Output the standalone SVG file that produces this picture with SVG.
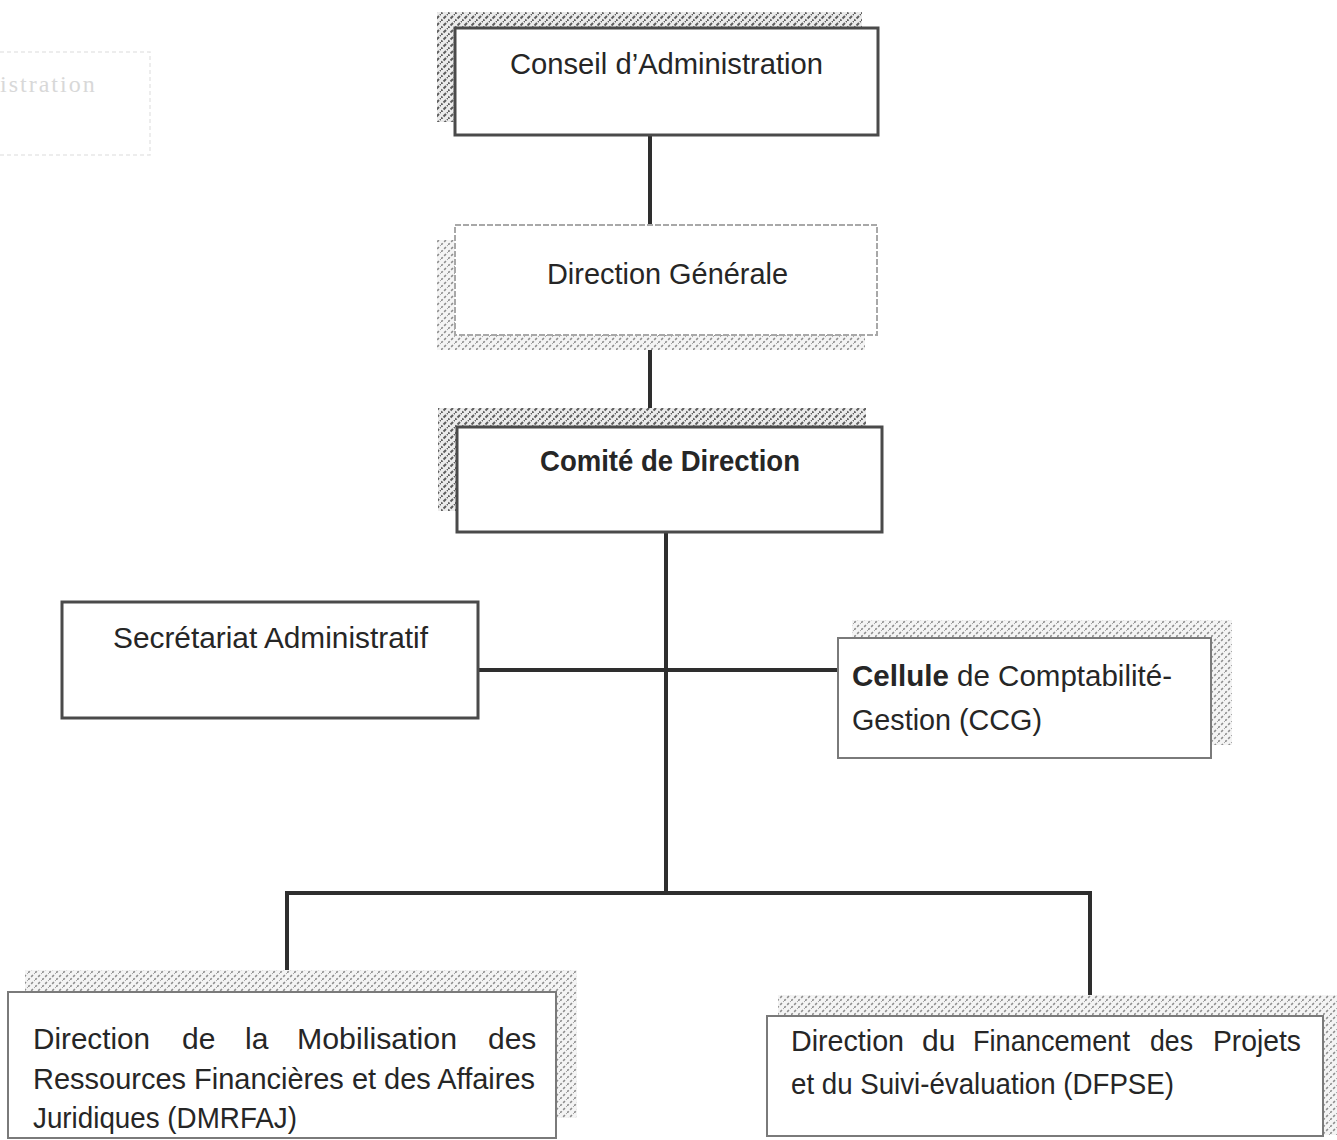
<svg xmlns="http://www.w3.org/2000/svg" width="1337" height="1140" viewBox="0 0 1337 1140">
  <defs>
    <pattern id="hatch" patternUnits="userSpaceOnUse" width="7" height="7">
      <rect width="7" height="7" fill="#ececec"/>
      <path d="M-1,8 L8,-1" stroke="#5e5e5e" stroke-width="2" stroke-dasharray="3.5 1.5"/>
    </pattern>
    <pattern id="dots" patternUnits="userSpaceOnUse" width="7" height="7">
      <rect width="7" height="7" fill="#f4f4f4"/>
      <path d="M0,7 L7,0" stroke="#8e8e8e" stroke-width="1.6" stroke-dasharray="2.5 2"/>
    </pattern>
  </defs>
  <style>
    .box { fill: #ffffff; stroke: #4a4a4a; stroke-width: 3; }
    .lightbox { fill: #ffffff; stroke: #a8a8a8; stroke-width: 2; stroke-dasharray: 6 2; }
    .midbox { fill: #ffffff; stroke: #7a7a7a; stroke-width: 2; }
    .shadow { fill: url(#hatch); }
    .shadow2 { fill: url(#dots); }
    .lbl { font-family: "Liberation Sans", Arial, sans-serif; font-size: 30px; fill: #262626; }
    .b { font-weight: bold; }
    .conn { stroke: #2e2e2e; stroke-width: 4; fill: none; stroke-linecap: square; }
    .ghost { font-family: "Liberation Serif", serif; font-size: 24px; fill: #cfcfcf; }
  </style>

  <rect width="1337" height="1140" fill="#ffffff"/>

  <!-- faint bleed-through from reverse page -->
  <g id="bleed" opacity="0.8">
    <path d="M0,52 H150 V155 H0" fill="none" stroke="#e2e2e2" stroke-width="1.5" stroke-dasharray="4 3"/>
    <text class="ghost" x="0" y="92" letter-spacing="2">istration</text>
  </g>

  <g id="connectors">
    <line class="conn" x1="650" y1="136" x2="650" y2="225"/>
    <line class="conn" x1="650" y1="336" x2="650" y2="427"/>
    <line class="conn" x1="666" y1="533" x2="666" y2="893"/>
    <line class="conn" x1="479" y1="670" x2="837" y2="670"/>
    <polyline class="conn" points="287,972 287,893 1090,893 1090,995"/>
  </g>

  <g id="node-conseil">
    <rect class="shadow" x="437" y="12" width="425" height="110"/>
    <rect class="box" x="455" y="28" width="423" height="107"/>
    <text class="lbl" x="510" y="74" textLength="313" lengthAdjust="spacingAndGlyphs">Conseil d’Administration</text>
  </g>

  <g id="node-direction-generale">
    <rect class="shadow2" x="437" y="240" width="428" height="110"/>
    <rect class="lightbox" x="455" y="225" width="422" height="110"/>
    <text class="lbl" x="547" y="284" textLength="241" lengthAdjust="spacingAndGlyphs">Direction Générale</text>
  </g>

  <g id="node-comite">
    <rect class="shadow" x="438" y="408" width="428" height="103"/>
    <rect class="box" x="457" y="427" width="425" height="105"/>
    <text class="lbl b" x="540" y="471" textLength="260" lengthAdjust="spacingAndGlyphs">Comité de Direction</text>
  </g>

  <g id="node-secretariat">
    <rect class="box" x="62" y="602" width="416" height="116"/>
    <text class="lbl" x="113" y="648" textLength="315" lengthAdjust="spacingAndGlyphs">Secrétariat Administratif</text>
  </g>

  <g id="node-ccg">
    <rect class="shadow2" x="852" y="620" width="380" height="125"/>
    <rect class="midbox" x="838" y="638" width="373" height="120"/>
    <text class="lbl" x="852" y="686" textLength="320" lengthAdjust="spacingAndGlyphs"><tspan class="b">Cellule</tspan> de Comptabilité-</text>
    <text class="lbl" x="852" y="730" textLength="190" lengthAdjust="spacingAndGlyphs">Gestion (CCG)</text>
  </g>

  <g id="node-dmrfaj">
    <rect class="shadow2" x="25" y="970" width="552" height="148"/>
    <rect class="midbox" x="8" y="992" width="548" height="146"/>
    <text class="lbl" y="1049"><tspan x="33" textLength="117" lengthAdjust="spacingAndGlyphs">Direction</tspan><tspan x="182">de</tspan><tspan x="245">la</tspan><tspan x="297" textLength="160" lengthAdjust="spacingAndGlyphs">Mobilisation</tspan><tspan x="488">des</tspan></text>
    <text class="lbl" x="33" y="1089" textLength="502" lengthAdjust="spacingAndGlyphs">Ressources Financières et des Affaires</text>
    <text class="lbl" x="33" y="1128" textLength="264" lengthAdjust="spacingAndGlyphs">Juridiques (DMRFAJ)</text>
  </g>

  <g id="node-dfpse">
    <rect class="shadow2" x="778" y="995" width="570" height="140"/>
    <rect class="midbox" x="767" y="1016" width="556" height="120"/>
    <text class="lbl" y="1051"><tspan x="791" textLength="113" lengthAdjust="spacingAndGlyphs">Direction</tspan><tspan x="922">du</tspan><tspan x="973" textLength="157" lengthAdjust="spacingAndGlyphs">Financement</tspan><tspan x="1150" textLength="43" lengthAdjust="spacingAndGlyphs">des</tspan><tspan x="1213" textLength="88" lengthAdjust="spacingAndGlyphs">Projets</tspan></text>
    <text class="lbl" x="791" y="1094" textLength="383" lengthAdjust="spacingAndGlyphs">et du Suivi-évaluation (DFPSE)</text>
  </g>
</svg>
